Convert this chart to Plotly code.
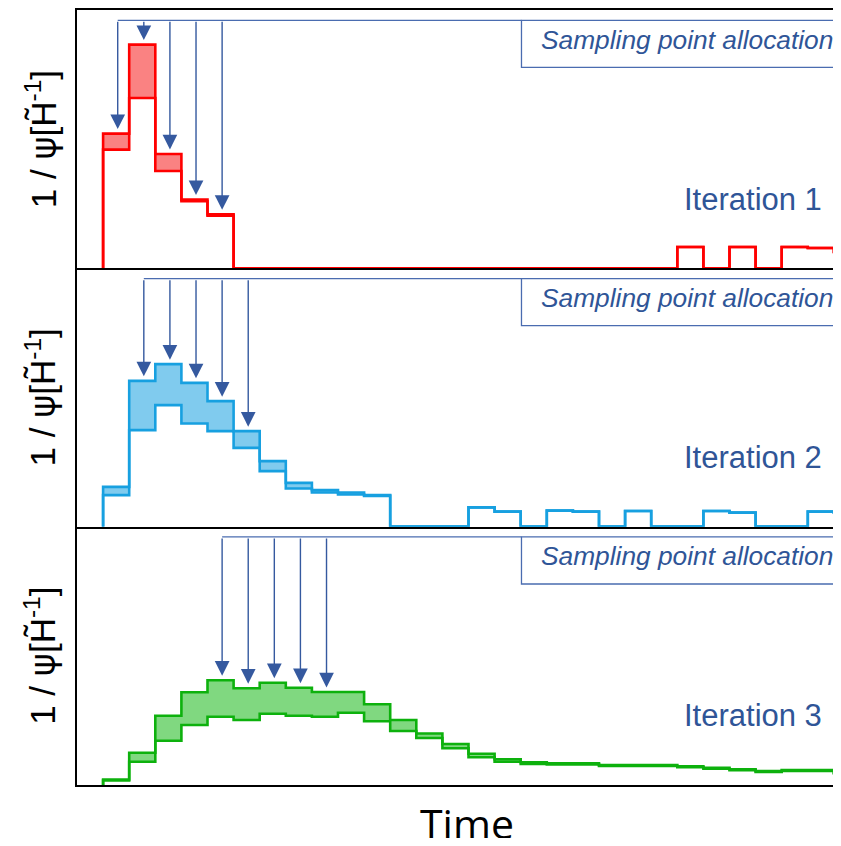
import plotly.graph_objects as go
from plotly.subplots import make_subplots

# ---- data (bin index 1..29 along the time axis, heights in arbitrary units) ----
bins = [1, 2, 3, 4, 5, 6, 7, 8, 9, 10, 11, 12, 13, 14, 15, 16, 17, 18, 19, 20,
        21, 22, 23, 24, 25, 26, 27, 28, 29]

iter1_upper = [134.7, 223.7, 114.3, 68.7, 54.0, 0, 0, 0, 0, 0, 0, 0, 0, 0, 0, 0,
               0, 0, 0, 0, 0, 0, 21.3, 0, 21.3, 0, 21.3, 20.3, 16.3]
iter1_lower = [118.7, 170.3, 97.3, 67.0, 52.7, 0, 0, 0, 0, 0, 0, 0, 0, 0, 0, 0,
               0, 0, 0, 0, 0, 0, 21.3, 0, 21.3, 0, 21.3, 20.3, 16.3]

iter2_upper = [39.8, 145.8, 162.5, 143.8, 125.5, 95.5, 65.5, 43.8, 36.5, 34.2, 31.5,
               0, 0, 0, 19.3, 15.0, 0, 16.0, 15.0, 0, 15.7, 0, 0, 15.7, 14.0, 0, 0, 15.0, 14.0]
iter2_lower = [31.5, 96.5, 121.5, 103.2, 95.5, 78.8, 55.5, 38.2, 34.2, 32.2, 30.8,
               0, 0, 0, 19.3, 15.0, 0, 16.0, 15.0, 0, 15.7, 0, 0, 15.7, 14.0, 0, 0, 15.0, 14.0]

iter3_upper = [5.5, 32.3, 69.3, 92.7, 104.7, 96.7, 102.3, 97.3, 93.0, 93.0, 80.7, 65.0,
               51.5, 41.0, 31.3, 25.7, 22.7, 21.7, 21.7, 20.0, 20.0, 20.0, 18.7, 17.3,
               15.7, 14.0, 15.0, 15.0, 12.3]
iter3_lower = [4.5, 23.3, 44.3, 60.0, 68.3, 65.0, 71.3, 69.3, 68.3, 72.3, 63.7, 54.0,
               47.0, 36.7, 27.7, 23.3, 21.0, 20.5, 20.5, 19.0, 19.0, 19.0, 17.7, 16.3,
               14.7, 13.0, 14.0, 14.0, 11.5]

sampled_bins = [[1, 2, 3, 4, 5], [2, 3, 4, 5, 6], [5, 6, 7, 8, 9]]
iteration_labels = ["Iteration 1", "Iteration 2", "Iteration 3"]
box_label = "Sampling point allocation"
y_title = ("1 / <span style='font-family:DejaVu Sans'>\u03c8</span>"
           "[H\u0303<sup>-1</sup>]")
x_title = "Time"

# ---- styles ----
line_colors = ["#FF0000", "#17A0E0", "#0DB10D"]
fill_colors = ["#FA8282", "#80CBEE", "#80D880"]
ARROW = "#35599F"
BOXLINE = "#4A6CB0"
TEXTBLUE = "#2F5597"
PLOT_W = 756
BIN_PX = 26.1
Y_MAX = 258.3
X_MAX = PLOT_W / BIN_PX
ARROW_TOP = 248
BOX_BOTTOM = 201
BOX_LEFT = 17.03

fig = make_subplots(rows=3, cols=1, shared_xaxes=True, vertical_spacing=0)

series = [(iter1_lower, iter1_upper), (iter2_lower, iter2_upper), (iter3_lower, iter3_upper)]

for i, (lo, up) in enumerate(series):
    row = i + 1
    xs = [bins[0]] + bins + [bins[-1] + 1]
    ylo = [0] + lo + [lo[-1]]
    yup = [0] + up + [up[-1]]
    fig.add_trace(go.Scatter(x=xs, y=ylo, mode="lines", line_shape="hv",
                             line=dict(color=line_colors[i], width=2.6),
                             showlegend=False, hoverinfo="skip"), row=row, col=1)
    fig.add_trace(go.Scatter(x=xs, y=yup, mode="lines", line_shape="hv",
                             line=dict(color=line_colors[i], width=2.6),
                             fill="tonexty", fillcolor=fill_colors[i],
                             showlegend=False, hoverinfo="skip"), row=row, col=1)

    xref = "x" if row == 1 else f"x{row}"
    yref = "y" if row == 1 else f"y{row}"

    # arrows
    arrow_xs = []
    for b in sampled_bins[i]:
        ax_x = b + 0.56
        arrow_xs.append(ax_x)
        tip = up[b - 1] + 4.5
        fig.add_annotation(x=ax_x, y=tip, ax=ax_x, ay=ARROW_TOP,
                           xref=xref, yref=yref, axref=xref, ayref=yref,
                           text="", showarrow=True, arrowhead=2,
                           arrowwidth=1.4, arrowsize=2.1, arrowcolor=ARROW)
    # horizontal connector + box
    fig.add_shape(type="line", xref=xref, yref=yref, x0=arrow_xs[0], x1=BOX_LEFT,
                  y0=ARROW_TOP, y1=ARROW_TOP, line=dict(color=BOXLINE, width=1.3))
    fig.add_shape(type="rect", xref=xref, yref=yref, x0=BOX_LEFT, x1=X_MAX + 2,
                  y0=BOX_BOTTOM, y1=ARROW_TOP, line=dict(color=BOXLINE, width=1.3),
                  fillcolor="rgba(0,0,0,0)")
    fig.add_annotation(xref="paper", yref=yref, x=(539 - 77) / PLOT_W, y=228.5,
                       xanchor="left", yanchor="middle", showarrow=False,
                       text=f"<i>{box_label}</i>",
                       font=dict(family="Liberation Sans, Arial", size=26.3, color=TEXTBLUE))
    fig.add_annotation(xref="paper", yref=yref, x=(824 - 77) / PLOT_W, y=69,
                       xanchor="right", yanchor="middle", showarrow=False,
                       text=iteration_labels[i],
                       font=dict(family="Liberation Sans, Arial", size=31, color=TEXTBLUE))
    fig.add_annotation(xref="paper", yref=f"{yref} domain", x=(41 - 77) / PLOT_W, y=0.5,
                       xanchor="center", yanchor="middle", showarrow=False,
                       textangle=-90, text=y_title,
                       font=dict(family="Liberation Sans, Arial", size=35, color="black"))

    fig.update_yaxes(row=row, col=1, range=[0, Y_MAX], showgrid=False, zeroline=False,
                     showticklabels=False, ticks="", showline=True, linecolor="black",
                     linewidth=2)
    fig.update_xaxes(row=row, col=1, range=[0, X_MAX], showgrid=False, zeroline=False,
                     showticklabels=False, ticks="", showline=True, linecolor="black",
                     linewidth=2, mirror=(row == 1))

fig.add_annotation(xref="paper", yref="paper", x=(466.7 - 77) / PLOT_W, y=-0.049,
                   xanchor="center", yanchor="middle", showarrow=False,
                   text=x_title, font=dict(family="Open Sans", size=41, color="black"))

# the page body has an 8px default margin: the figure is sized to fit inside the
# 841x846 window without scrollbars, and margins put the plot area at the same
# page pixels as the reference
fig.update_layout(width=825, height=830, margin=dict(l=69, r=0, t=2, b=53),
                  paper_bgcolor="white", plot_bgcolor="white", showlegend=False)

fig.write_html("out.html")
